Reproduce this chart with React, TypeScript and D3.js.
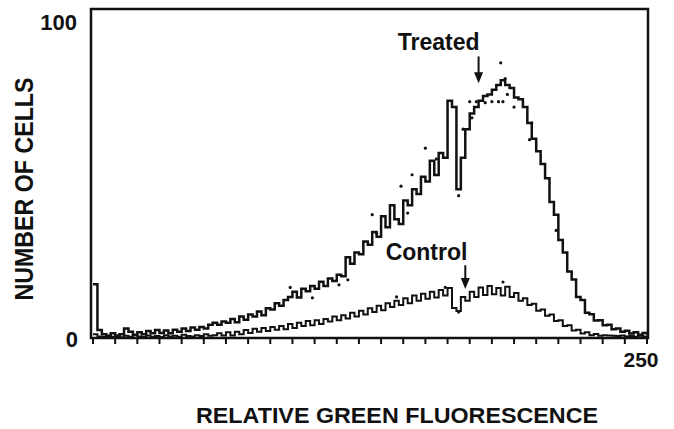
import React from "react";
import * as d3 from "d3";

// histogram channels (every 2nd channel of 0..250)
const channels = d3.range(0, 251, 2);

const treated = [
  17, 2.5, 1.2, 0.6, 1.5, 0.8, 1.2, 3, 2, 1,
  1.8, 1.2, 2.2, 1.5, 2.5, 1.6, 2.4, 1.5, 2.6, 2,
  3, 2.2, 3.3, 2.6, 3.5, 3, 4.2, 4.8, 4.2, 5.2,
  4.8, 6, 5, 6.8, 5.8, 7.4, 6.8, 8.4, 7.2, 9.4,
  9, 11, 10.2, 12, 13, 14.6, 12.8, 15.6, 14.8, 16.4,
  15.6, 17.8, 16.4, 18.8, 18, 20, 19.5, 25.5, 23.5, 27,
  26.5, 30.5, 29.5, 33.5, 32, 38.5, 35, 42, 37.5, 36,
  43.5, 42, 47, 45.5, 51, 49.5, 56, 51.5, 58.5, 57,
  75, 73, 47, 57, 66, 71, 73, 75, 76.5, 77,
  78.5, 80, 81.5, 80, 79, 76, 75.5, 73, 68, 63,
  59, 55, 50.5, 43, 39, 31, 27, 21, 18.5, 13,
  12, 8, 7.5, 5.5, 5.6, 4, 4.2, 2.8, 3, 2,
  2.3, 1.4, 1.8, 1, 1.6, 1
];

const control = [
  1.2, 0.5, 0.3, 0.8, 0.4, 0.6, 0.2, 0.7, 0.4, 0.9,
  0.5, 0.3, 0.8, 0.4, 0.6, 0.3, 0.9, 0.5, 0.7, 0.4,
  1, 0.6, 0.5, 0.9, 0.6, 1.2, 0.7, 0.9, 1.5, 0.8,
  1.8, 0.8, 2, 1.2, 2.5, 1.6, 2.9, 2, 3.2, 2.2,
  3.5, 2.6, 3.8, 2.8, 4.4, 3.2, 4.8, 3.8, 5.4, 4,
  5.6, 4.4, 6, 5.2, 6.8, 5.6, 7.2, 6.2, 8, 6.8,
  8.6, 7.4, 9.4, 8.2, 10.2, 8.8, 11, 9.8, 11.8, 10.4,
  12.6, 11, 13.4, 11.8, 14, 12.4, 14.6, 12.8, 15.2, 13.4,
  15.8, 9.5, 8.5, 13, 11.8, 14.6, 13, 16, 13.6, 16.4,
  13.8, 15.8, 13.4, 16.2, 13, 14.2, 11.8, 12.6, 10.4, 10.8,
  8.6, 9, 7, 7.4, 5.4, 5.6, 3.8, 4, 2.4, 2.6,
  1.4, 1.8, 0.9, 1.3, 0.7, 0.9, 0.8, 0.7, 0.6, 0.8,
  0.5, 0.6, 0.4, 0.7, 0.5, 0.4
];

// scattered dots of the overlaid trace
const dotChannels = [89, 99, 111, 115, 126, 128, 142, 139, 144, 150, 155, 165, 167, 171, 170, 173, 177, 180, 183, 185, 184, 186, 187, 190, 198, 197, 209, 165, 185, 137, 159];
const dotCounts = [16, 12.7, 16.8, 18.4, 39, 33, 39.5, 48, 51.6, 60, 56.6, 45, 66, 69.6, 74.7, 74.7, 74.4, 74.7, 74.7, 74.7, 87, 82, 77, 73, 68, 62.7, 34, 8.2, 17.7, 13, 16];

const xTicks = d3.range(0, 251, 10);
const yLabels = ["0", "100"];

const W = 674;
const H = 429;
const FONT = "'Liberation Sans', Arial, Helvetica, sans-serif";

export default function App() {
  const x = d3.scaleLinear().domain([0, 250]).range([93, 647]);
  const y = d3.scaleLinear().domain([0, 104]).range([338, 9]);

  const line = d3.line<number>()
    .x((d, i) => x(channels[i]))
    .y(d => y(d))
    .curve(d3.curveStepAfter);

  // arrow helper
  const arrow = (c: number, from: number, to: number) => {
    const ax = x(c), y0 = y(from), y1 = y(to);
    return (
      <g>
        <line x1={ax} x2={ax} y1={y0} y2={y1 - 8} stroke="#111" strokeWidth={2} />
        <polygon points={`${ax - 4.5},${y1 - 11} ${ax + 4.5},${y1 - 11} ${ax},${y1}`} fill="#111" />
      </g>
    );
  };

  return (
    <svg width={W} height={H} style={{ position: "absolute", left: 0, top: 0, background: "#fff" }}>
      {/* frame */}
      <rect x={91} y={9} width={557} height={329} fill="none" stroke="#111" strokeWidth={2.5} />
      {/* x ticks */}
      {xTicks.map(t => (
        <line key={t} x1={x(t)} x2={x(t)} y1={y(0)} y2={y(0) + 6} stroke="#111" strokeWidth={2} />
      ))}
      {/* curves */}
      <path d={line(control) || ""} fill="none" stroke="#111" strokeWidth={2} />
      <path d={line(treated) || ""} fill="none" stroke="#111" strokeWidth={2.5} />
      {dotChannels.map((c, i) => (
        <circle key={i} cx={x(c)} cy={y(dotCounts[i])} r={1.6} fill="#111" />
      ))}

      {/* tick labels */}
      <g fontFamily={FONT} fontWeight="bold" fill="#111">
        <text x={77} y={y(100) + 8} fontSize={22} textAnchor="end">{yLabels[1]}</text>
        <text x={78} y={y(0) + 9} fontSize={22} textAnchor="end">{yLabels[0]}</text>
        <text x={x(250) - 6} y={367} fontSize={21} textAnchor="middle">250</text>
      </g>

      {/* annotations */}
      <g fontFamily={FONT} fontWeight="bold" fill="#111">
        <text x={x(156)} y={y(91)} fontSize={23} textAnchor="middle">Treated</text>
        <text x={x(150.5)} y={y(24.7)} fontSize={23} textAnchor="middle">Control</text>
      </g>
      {arrow(174, 89, 80.5)}
      {arrow(168, 23, 15.5)}

      {/* axis titles */}
      <g fontFamily={FONT} fontWeight="bold" fill="#111">
        <text x={397} y={423} fontSize={22} textAnchor="middle" textLength={402} lengthAdjust="spacingAndGlyphs">
          RELATIVE GREEN FLUORESCENCE
        </text>
        <text transform="translate(33,189) rotate(-90)" fontSize={25} textAnchor="middle" textLength={223} lengthAdjust="spacingAndGlyphs">
          NUMBER OF CELLS
        </text>
      </g>
    </svg>
  );
}
